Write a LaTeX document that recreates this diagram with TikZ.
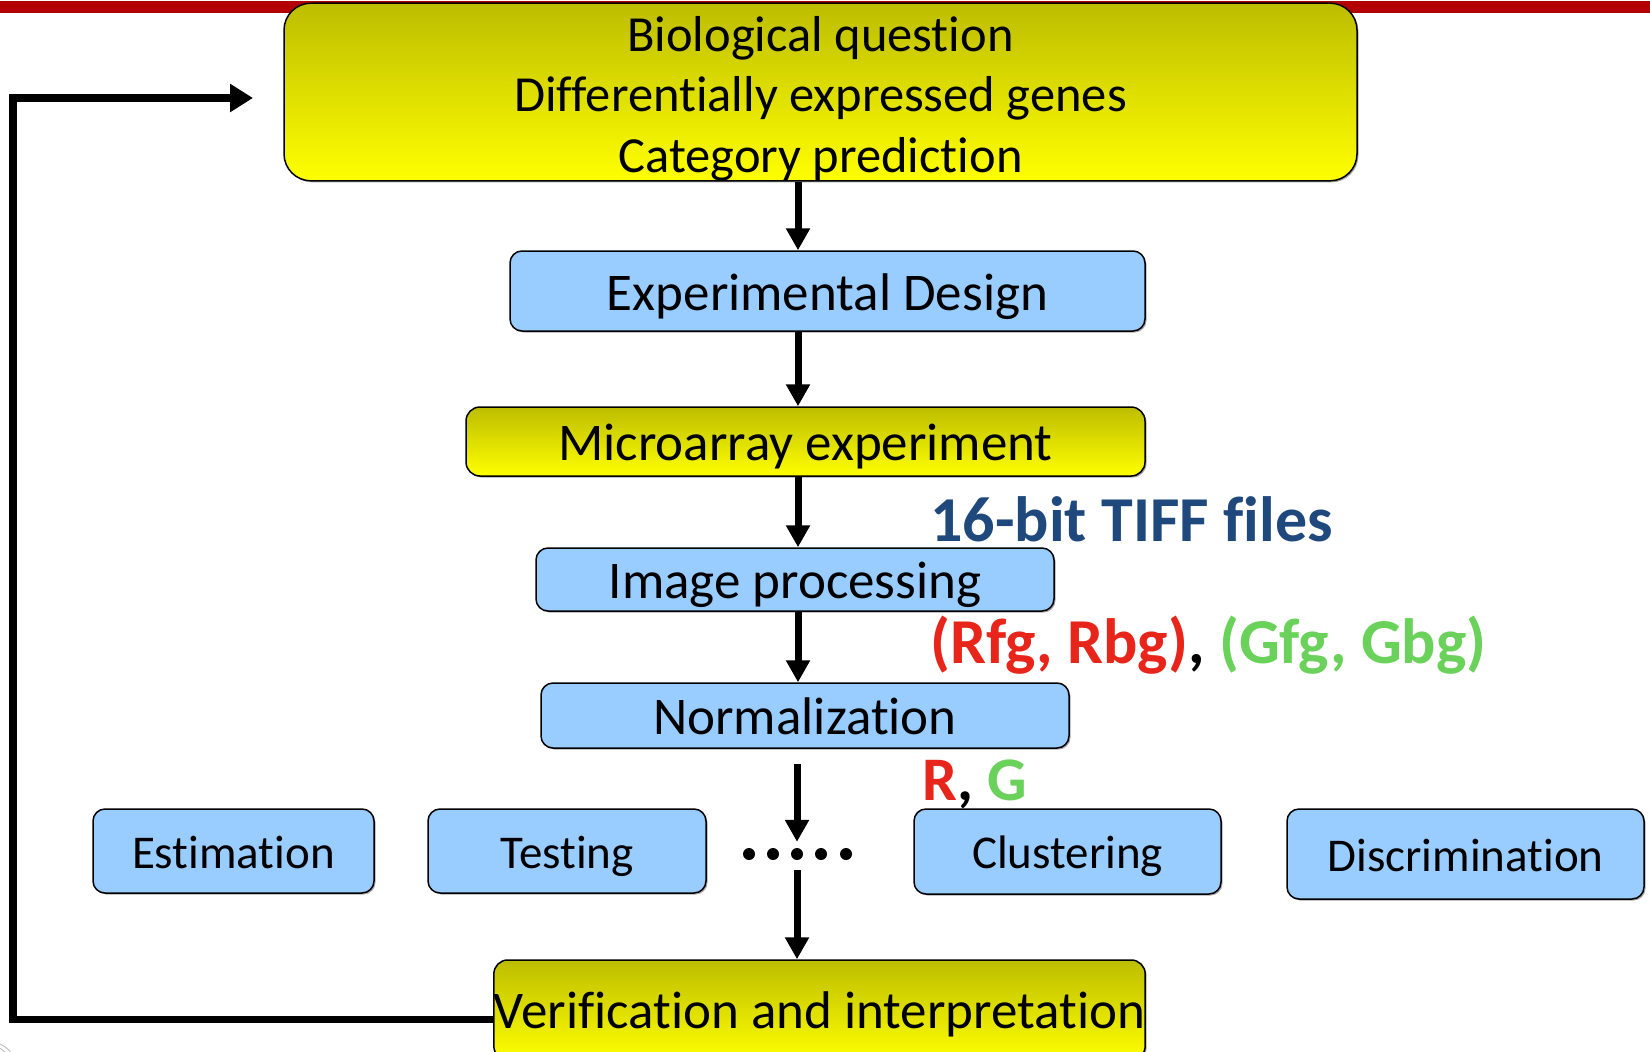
\documentclass[tikz,border=0pt]{standalone}
\usepackage{fontspec}
\setmainfont{Carlito}[Ligatures=NoCommon]
\usetikzlibrary{arrows.meta,shadows}
\definecolor{boxblue}{RGB}{153,204,255}
\definecolor{ytop}{RGB}{189,189,0}
\definecolor{ybot}{RGB}{255,255,0}
\definecolor{topred}{RGB}{179,0,0}
\definecolor{tiffblue}{RGB}{31,73,125}
\definecolor{lblred}{RGB}{232,37,27}
\definecolor{lblgreen}{RGB}{106,210,90}
\begin{document}
\begin{tikzpicture}[x=1pt,y=-1pt,
  shad/.style={drop shadow={shadow xshift=1.5pt, shadow yshift=-1.5pt, opacity=0.35, fill=black}},
  bluebox/.style={draw=black, line width=1.5pt, rounded corners=12pt, fill=boxblue,
    inner sep=0pt, text depth=0pt, shad},
  yelbox/.style={draw=black, line width=1.5pt, rounded corners=14pt,
    top color=ytop, bottom color=ybot, inner sep=0pt, shad},
  bigfont/.style={font=\fontsize{53}{60}\selectfont, text height=38pt, text depth=0pt},
  smallfont/.style={font=\fontsize{47}{56}\selectfont, text height=34pt, text depth=0pt},
  flow/.style={line width=7pt, -{Triangle[width=23pt,length=22pt]}},
  fb/.style={line width=7.5pt, line join=miter, -{Triangle[width=27pt,length=23pt]}},
  dot/.style={circle, fill=black, inner sep=0pt, minimum size=12pt},
  lbl/.style={anchor=base west, inner sep=0pt, font=\bfseries\fontsize{64}{70}\selectfont}
]
\useasboundingbox (0,0) rectangle (1650,1052);
\clip (0,0) rectangle (1650,1052);
\fill[white] (0,0) rectangle (1650,1052);
% red line at top
\fill[topred] (0,1) rectangle (1650,13);
% partial logo bottom-left
\foreach \r in {14,18,22,26}
  \draw[gray!55, line width=0.8pt] (-10,1068) circle (\r);

% main boxes
\node[yelbox, rounded corners=27pt, minimum width=1073pt, minimum height=170pt, align=center,
  font=\fontsize{50.5}{60.5}\selectfont] (top) at (820.5,92)
  {\rule{0pt}{48pt}Biological question\\Differentially expressed genes\\Category prediction};
\node[bluebox, bigfont, minimum width=635pt, minimum height=80pt] (exp) at (827.5,291) {Experimental Design};
\node[yelbox, bigfont, minimum width=679pt, minimum height=69pt] (micro) at (805.5,441.5) {Microarray experiment};
\node[bluebox, bigfont, minimum width=518pt, minimum height=63pt] (img) at (795,579.5) {Image processing};
\node[bluebox, bigfont, minimum width=528pt, minimum height=65pt] (norm) at (805,715.5) {Normalization};

\node[bluebox, smallfont, minimum width=281pt, minimum height=84pt] (est) at (233.5,851) {Estimation};
\node[bluebox, smallfont, minimum width=278pt, minimum height=84pt] (test) at (567,851) {Testing};
\node[bluebox, smallfont, minimum width=307pt, minimum height=85pt] (clus) at (1067.5,851.5) {Clustering};
\node[bluebox, smallfont, minimum width=357pt, minimum height=90pt] (disc) at (1465.5,854) {Discrimination};

\node[yelbox, font=\fontsize{53}{60}\selectfont, text height=37pt, text depth=0pt,
  minimum width=651pt, minimum height=100pt] (ver) at (819.5,1010) {Verification and interpretation};

% dots
\node[dot] (d1) at (749,854) {};
\node[dot] (d2) at (773,854) {};
\node[dot] (dots) at (797,854) {};
\node[dot] (d4) at (821,854) {};
\node[dot] (d5) at (846,854) {};

% arrow axis
\coordinate (ax) at (798,0);
\draw[flow] (top.south -| ax) -- (exp.north -| ax);
\draw[flow] (exp.south -| ax) -- (micro.north -| ax);
\draw[flow] (micro.south -| ax) -- (img.north -| ax);
\draw[flow] (img.south -| ax) -- (norm.north -| ax);
\draw[flow, shorten <=15pt, shorten >=6pt] (norm.south -| dots) -- (dots.north);
\draw[flow, shorten <=10pt] (dots.south) -- (ver.north -| dots);

% feedback
\coordinate (fb1) at (13,1019.5);
\coordinate (fb2) at (13,98);
\coordinate (fbend) at (253,98);
\draw[fb] (ver.west |- fb1) -- (fb1) -- (fb2) -- (fbend);

% labels
\node[lbl, text=tiffblue] (tiff) at (930,541) {16-bit TIFF files};
\node[lbl] (rg1) at (930,663) {\textcolor{lblred}{(Rfg, Rbg)}, \textcolor{lblgreen}{(Gfg, Gbg)}};
\node[lbl, font=\bfseries\fontsize{62}{70}\selectfont] (rg2) at (922,800) {\textcolor{lblred}{R}, \textcolor{lblgreen}{G}};
\end{tikzpicture}
\end{document}
